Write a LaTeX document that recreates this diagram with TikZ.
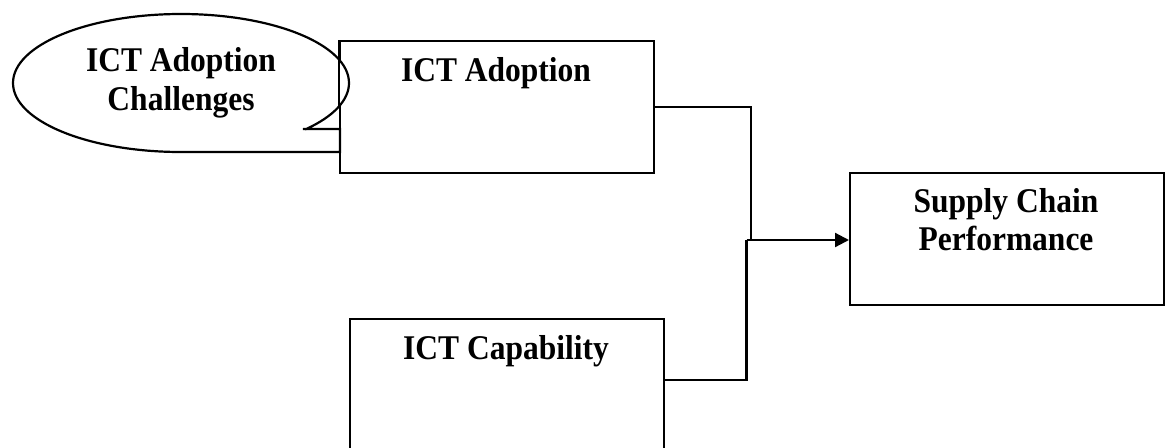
\documentclass[tikz,border=0pt]{standalone}
\usepackage{fontspec}
\usepackage{graphicx}
\setmainfont{Liberation Serif}
\usetikzlibrary{arrows.meta,calc}
\newcommand{\tallbf}[1]{\scalebox{1}[1.1]{#1}}
\begin{document}
\begin{tikzpicture}[x=1pt,y=1pt,
  box/.style={draw,line width=2.2pt,minimum width=314pt,inner sep=0pt,anchor=north west},
  lbl/.style={font=\fontsize{31.5}{38}\selectfont\bfseries,anchor=base,inner sep=0pt},
  wire/.style={line width=2.2pt},
  tip/.style={-{Triangle[length=14pt,width=14pt]}}]
\useasboundingbox (0,0) rectangle (1167,-447);
\clip (0,0) rectangle (1167,-447);
% boxes
\node[box,minimum height=132pt] (adopt) at (339,-40) {};
\node[box,minimum height=132pt] (supply) at (849,-172) {};
\node[box,minimum height=150pt] (cap) at (349,-318) {};
% callout
\draw[wire,fill=white] (303,-129) -- (340,-129) -- (340,-152) -- (181,-152)
  arc[start angle=270,end angle=-42,x radius=168,y radius=69] -- cycle;
\draw[wire] (adopt.north west) -- ++(0,-67);
% labels
\node[lbl] (ch1) at (181,-71) {\tallbf{ICT Adoption}};
\node[lbl] (ch2) at (181,-110) {\tallbf{Challenges}};
\node[lbl] (adoptlbl) at (496,-81.5) {\tallbf{ICT Adoption}};
\node[lbl] (sup1) at (1006,-212.5) {\tallbf{Supply Chain}};
\node[lbl] (sup2) at (1006,-250.5) {\tallbf{Performance}};
\node[lbl] (caplbl) at (506,-359) {\tallbf{ICT Capability}};
% connectors
\coordinate (j) at (751,-240);
\coordinate (j2) at (746.5,-240);
\coordinate (capout) at ([yshift=-62pt]cap.north east);
\draw[wire] (adopt.east) -| (j);
\draw[wire] (capout) -| (j2);
\draw[wire,tip] (j2) -- (j2 -| supply.west);
\end{tikzpicture}
\end{document}
